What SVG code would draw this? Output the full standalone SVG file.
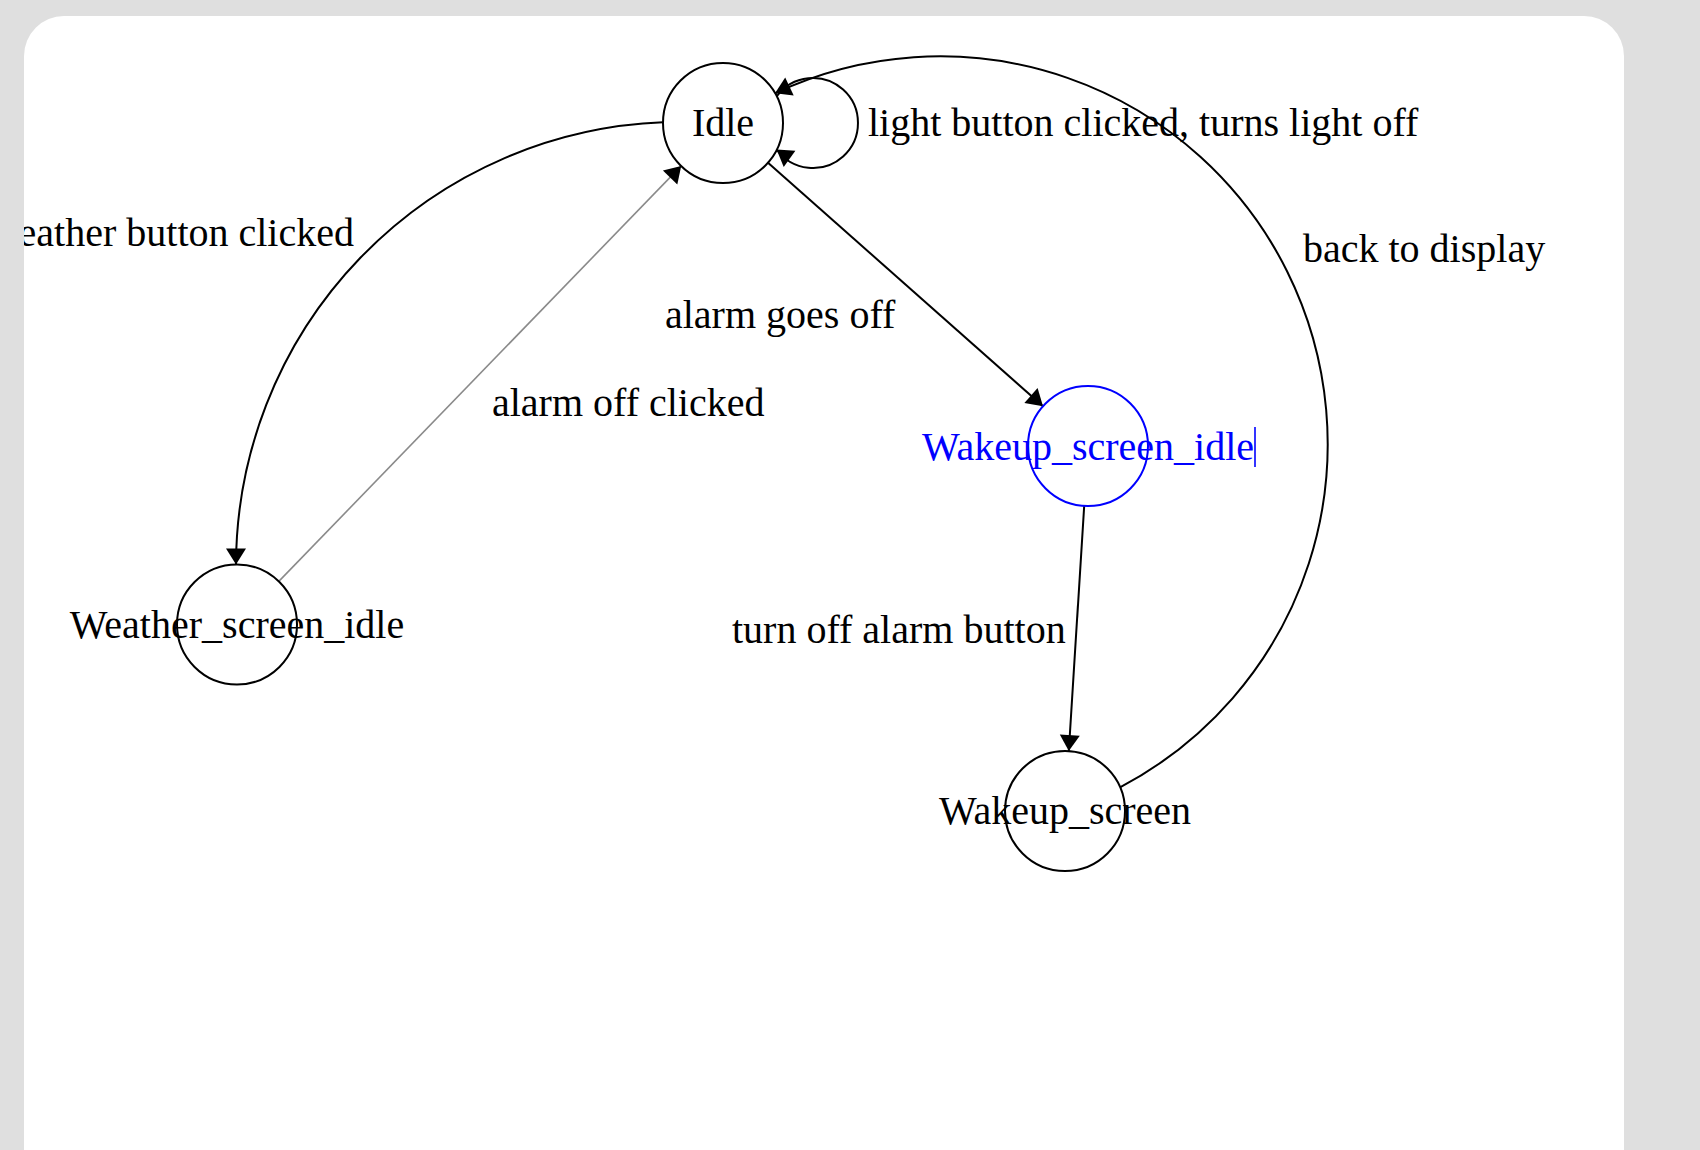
<svg xmlns="http://www.w3.org/2000/svg" width="1700" height="1150" viewBox="0 0 1700 1150">
  <defs>
    <clipPath id="cardClip">
      <rect x="24" y="16" width="1600" height="1200" rx="40" ry="40"/>
    </clipPath>
    <style>
      .bg { fill: #dfdfdf; }
      .card { fill: #ffffff; }
      .node { fill: none; stroke: #000000; stroke-width: 2; }
      .node.sel { stroke: #0000ff; }
      .label { font-family: "Liberation Serif", "Times New Roman", serif; font-size: 40px; fill: #000000; }
      .label.sel { fill: #0000ff; }
      .nlabel { text-anchor: middle; }
      .edge { fill: none; stroke: #000000; stroke-width: 2; }
      .edge.light { stroke: #8a8a8a; stroke-width: 1.6; }
      .head { fill: #000000; stroke: none; }
      .caret { stroke: #0000ff; stroke-width: 1.6; }
    </style>
  </defs>

  <rect class="bg" x="0" y="0" width="1700" height="1150"/>
  <rect class="card" x="24" y="16" width="1600" height="1200" rx="40" ry="40"/>

  <g clip-path="url(#cardClip)">
    <g id="connectors">
      <!-- Idle -> Weather_screen_idle (curved) -->
      <g id="edge-idle-weather">
        <path class="edge" d="M 663 122.3 A 444 444 0 0 0 236 564.5"/>
        <polygon class="head" points="236,564.5 226,548.5 246,548.5"/>
        <text class="label" x="354" y="246" text-anchor="end">eather button clicked</text>
      </g>
      <!-- Weather_screen_idle -> Idle (straight) -->
      <g id="edge-weather-idle">
        <line class="edge light" x1="278.8" y1="581.4" x2="681.2" y2="165.9"/>
        <polygon class="head" points="681.2,165.9 662.9,170.4 677.3,184.4"/>
        <text class="label" x="492" y="416">alarm off clicked</text>
      </g>
      <!-- Idle -> Wakeup_screen_idle -->
      <g id="edge-idle-wakeidle">
        <line class="edge" x1="768" y1="162.8" x2="1043" y2="406.2"/>
        <polygon class="head" points="1043,406.2 1037.6,388.1 1024.4,403.1"/>
        <text class="label" x="665" y="328">alarm goes off</text>
      </g>
      <!-- Wakeup_screen_idle -> Wakeup_screen -->
      <g id="edge-wakeidle-wake">
        <line class="edge" x1="1084.2" y1="505.9" x2="1068.8" y2="751.1"/>
        <polygon class="head" points="1068.8,751.1 1079.8,735.8 1059.8,734.5"/>
        <text class="label" x="732" y="643">turn off alarm button</text>
      </g>
      <!-- Idle self loop -->
      <g id="edge-idle-self">
        <path class="edge" d="M 776.6 96.5 A 45 45 0 1 1 776.6 149.5"/>
        <polygon class="head" points="776.6,149.5 783.7,167.0 795.4,150.8"/>
        <text class="label" x="868" y="136">light button clicked, turns light off</text>
      </g>
      <!-- Wakeup_screen -> Idle (big arc) -->
      <g id="edge-wake-idle">
        <path class="edge" d="M 1120 787.3 A 387.6 387.6 0 0 0 775 93.3"/>
        <polygon class="head" points="775,93.3 793.7,95.5 785.2,77.4"/>
        <text class="label" x="1303" y="262">back to display</text>
      </g>
    </g>

    <g id="node-idle">
      <circle class="node" cx="723" cy="123" r="60"/>
      <text class="label nlabel" x="723" y="136">Idle</text>
    </g>
    <g id="node-weather-screen-idle">
      <circle class="node" cx="237" cy="624.5" r="60"/>
      <text class="label nlabel" x="237" y="638">Weather_screen_idle</text>
    </g>
    <g id="node-wakeup-screen-idle">
      <circle class="node sel" cx="1088" cy="446" r="60"/>
      <text class="label sel nlabel" x="1088" y="460">Wakeup_screen_idle</text>
      <line class="caret" x1="1255" y1="427" x2="1255" y2="467"/>
    </g>
    <g id="node-wakeup-screen">
      <circle class="node" cx="1065" cy="811" r="60"/>
      <text class="label nlabel" x="1065" y="824">Wakeup_screen</text>
    </g>
  </g>
</svg>
